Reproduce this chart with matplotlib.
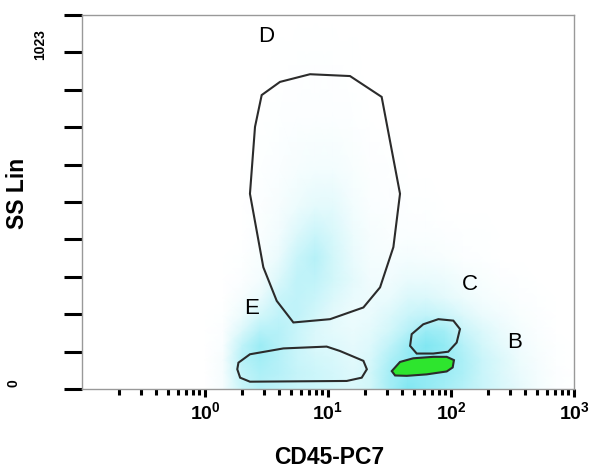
import numpy as np
import matplotlib
matplotlib.use('Agg')
import matplotlib.pyplot as plt
from matplotlib.colors import LinearSegmentedColormap
from matplotlib.ticker import FixedLocator, LogLocator, NullFormatter

plt.rcParams['font.family'] = ['Liberation Sans', 'DejaVu Sans']
plt.rcParams['mathtext.fontset'] = 'custom'
plt.rcParams['mathtext.rm'] = 'Liberation Sans:bold'
plt.rcParams['mathtext.bf'] = 'Liberation Sans:bold'
plt.rcParams['mathtext.it'] = 'Liberation Sans:bold'

# gate polygons (CD45, SS Lin channel)
gate_d_x = [2.89, 4.07, 7.14, 15.1, 27.3, 38.5, 34.0, 26.5, 19.4, 10.4, 5.23, 3.83, 2.98, 2.32, 2.55]
gate_d_y = [804, 840, 861, 856, 799, 534, 388, 278, 223, 191, 182, 241, 333, 534, 717]
gate_e_x = [1.87, 2.32, 4.34, 9.75, 12.5, 19.4, 20.7, 18.8, 14.2, 2.32, 1.93, 1.83]
gate_e_y = [72, 95, 111, 116, 104, 77, 54, 31, 22, 20, 31, 54]
gate_c_x = [47.9, 59.5, 78.9, 104.5, 118.3, 111.2, 95.0, 71.8, 52.6, 46.5]
gate_c_y = [150, 177, 191, 187, 164, 127, 102, 97, 97, 118]
gate_b_x = [33.0, 38.5, 49.3, 71.8, 92.3, 105.7, 103.2, 92.3, 63.4, 43.6, 35.1]
gate_b_y = [49, 74, 84, 88, 88, 79, 59, 48, 40, 36, 37]

gate_labels = ['D', 'C', 'B', 'E']
label_x = [3.13, 142.6, 331.0, 2.37]
label_y = [965, 285, 126, 219]

# event density
grid_cd45 = [1.0, 1.4, 2.0, 2.8, 4.0, 5.6, 7.9, 11, 16, 22, 32, 45, 63, 89, 126, 178, 251, 355, 500, 710, 1000]
grid_ss = [0, 45, 80, 120, 160, 200, 250, 300, 360, 420, 500, 600, 750, 1023]
density = [
    [0, 0.05, 0.30, 0.40, 0.35, 0.30, 0.28, 0.25, 0.20, 0.25, 0.50, 0.70, 0.60, 0.50, 0.40, 0.30, 0.22, 0.14, 0.07, 0.02, 0],
    [0, 0.05, 0.35, 0.45, 0.40, 0.32, 0.28, 0.24, 0.18, 0.25, 0.50, 0.60, 0.60, 0.55, 0.45, 0.30, 0.20, 0.12, 0.06, 0.02, 0],
    [0, 0.05, 0.40, 0.50, 0.40, 0.30, 0.25, 0.22, 0.16, 0.22, 0.45, 0.60, 0.65, 0.55, 0.45, 0.30, 0.20, 0.10, 0.05, 0.01, 0],
    [0, 0.03, 0.35, 0.55, 0.40, 0.30, 0.20, 0.18, 0.14, 0.18, 0.35, 0.55, 0.70, 0.60, 0.40, 0.25, 0.15, 0.08, 0.04, 0.01, 0],
    [0, 0.02, 0.20, 0.40, 0.40, 0.30, 0.20, 0.15, 0.12, 0.15, 0.25, 0.40, 0.55, 0.50, 0.30, 0.20, 0.12, 0.06, 0.03, 0.00, 0],
    [0, 0.01, 0.10, 0.25, 0.35, 0.35, 0.25, 0.15, 0.10, 0.12, 0.20, 0.30, 0.35, 0.30, 0.20, 0.12, 0.08, 0.04, 0.02, 0.00, 0],
    [0, 0.00, 0.05, 0.12, 0.30, 0.35, 0.30, 0.20, 0.12, 0.10, 0.12, 0.20, 0.20, 0.15, 0.10, 0.06, 0.04, 0.02, 0.01, 0.00, 0],
    [0, 0.00, 0.02, 0.06, 0.20, 0.35, 0.35, 0.25, 0.15, 0.08, 0.08, 0.12, 0.12, 0.10, 0.06, 0.04, 0.02, 0.01, 0.00, 0.00, 0],
    [0, 0.00, 0.01, 0.04, 0.12, 0.30, 0.40, 0.25, 0.12, 0.06, 0.05, 0.06, 0.05, 0.04, 0.02, 0.01, 0.00, 0.00, 0.00, 0.00, 0],
    [0, 0.00, 0.00, 0.03, 0.08, 0.20, 0.30, 0.22, 0.10, 0.05, 0.03, 0.03, 0.03, 0.02, 0.01, 0.01, 0.00, 0.00, 0.00, 0.00, 0],
    [0, 0.00, 0.00, 0.02, 0.05, 0.10, 0.15, 0.15, 0.07, 0.03, 0.02, 0.01, 0.01, 0.00, 0.00, 0.00, 0.00, 0.00, 0.00, 0.00, 0],
    [0, 0.00, 0.00, 0.01, 0.03, 0.05, 0.07, 0.07, 0.04, 0.02, 0.01, 0.00, 0.00, 0.00, 0.00, 0.00, 0.00, 0.00, 0.00, 0.00, 0],
    [0, 0.00, 0.00, 0.00, 0.01, 0.02, 0.02, 0.02, 0.01, 0.00, 0.00, 0.00, 0.00, 0.00, 0.00, 0.00, 0.00, 0.00, 0.00, 0.00, 0],
    [0] * 21,
]

x_major = [1, 10, 100, 1000]
x_major_labels = [r'$10^0$', r'$10^1$', r'$10^2$', r'$10^3$']

fig = plt.figure(figsize=(6, 4.76), dpi=100)
ax = fig.add_axes([82 / 600, 1 - 389 / 476, 492 / 600, 374 / 476])

cmap = LinearSegmentedColormap.from_list('cyan_dots', ['#ffffff', '#2fd8ea'])
X, Y = np.meshgrid(grid_cd45, grid_ss)
ax.pcolormesh(X, Y, np.array(density), cmap=cmap, vmin=0, vmax=1.15, shading='gouraud', zorder=1)

gate_color = '#2b2b2b'
ax.fill(gate_b_x, gate_b_y, facecolor='#2ee52e', edgecolor=gate_color, lw=1.5, zorder=3)
for gx, gy in [(gate_d_x, gate_d_y), (gate_e_x, gate_e_y), (gate_c_x, gate_c_y)]:
    ax.fill(gx, gy, facecolor='none', edgecolor=gate_color, lw=1.5, zorder=3)

for lab, lx, ly in zip(gate_labels, label_x, label_y):
    ax.text(lx, ly, lab, fontsize=16, ha='center', va='center', zorder=4)

ax.set_xscale('log')
ax.set_xlim(0.1, 1000)
ax.set_ylim(0, 1023)

ax.xaxis.set_major_locator(FixedLocator(x_major))
ax.set_xticklabels(x_major_labels, fontsize=14)
ax.xaxis.set_minor_locator(LogLocator(base=10, subs=np.arange(2, 10), numticks=20))
ax.xaxis.set_minor_formatter(NullFormatter())
ax.tick_params(axis='x', which='major', length=6, width=2.2, color='black', pad=3)
ax.tick_params(axis='x', which='minor', length=4, width=2.2, color='black')

ax.set_yticks(np.linspace(0, 1023, 11))
ax.set_yticklabels([])
ax.tick_params(axis='y', length=13, width=2.2, color='black')

for sp in ax.spines.values():
    sp.set_color('#999999')
    sp.set_linewidth(1)

fig.text(40 / 600, 1 - 45 / 476, '1023', rotation=90, fontsize=10, fontweight='bold', ha='center', va='center')
fig.text(14 / 600, 1 - 383 / 476, '0', rotation=90, fontsize=10, fontweight='bold', ha='center', va='center')
fig.text(329 / 600, 1 - 458 / 476, 'CD45-PC7', fontsize=16.5, fontweight='bold', ha='center', va='center')
fig.text(17 / 600, 1 - 193 / 476, 'SS Lin', rotation=90, fontsize=16.5, fontweight='bold', ha='center', va='center')

fig.savefig('out.png', dpi=100, facecolor='white')
